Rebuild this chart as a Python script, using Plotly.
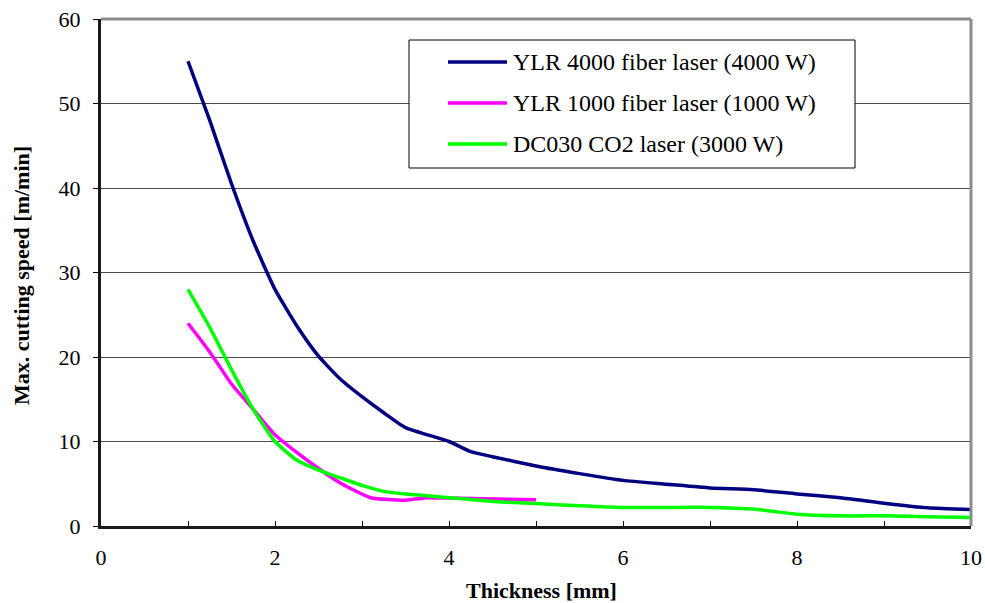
import plotly.graph_objects as go

# ---------------- data ----------------
thickness_ylr4000 = [1, 1.25, 1.5, 1.75, 2, 2.25, 2.5, 2.75, 3, 3.25, 3.5, 4, 4.25,
                     4.5, 5, 5.5, 6, 6.5, 7, 7.5, 8, 8.5, 9, 9.5, 10]
speed_ylr4000 = [55, 48, 40.5, 33.7, 28.0, 23.7, 20.1, 17.4, 15.3, 13.4, 11.65, 10, 8.8,
                 8.2, 7.1, 6.2, 5.4, 4.95, 4.5, 4.3, 3.8, 3.35, 2.7, 2.15, 1.95]

thickness_ylr1000 = [1, 1.25, 1.5, 1.75, 2, 2.25, 2.5, 2.75, 3.1, 3.5, 3.75, 4, 4.5, 5]
speed_ylr1000 = [24, 20.6, 16.8, 13.8, 10.8, 8.7, 6.8, 5.1, 3.35, 3.05, 3.35, 3.3, 3.2, 3.1]

thickness_dc030 = [1, 1.25, 1.5, 1.75, 2, 2.25, 2.5, 2.75, 3, 3.25, 3.5, 4, 4.5, 5,
                   5.5, 6, 6.5, 7, 7.5, 8, 8.5, 9, 9.5, 10]
speed_dc030 = [28, 23.5, 18.5, 13.8, 10, 7.8, 6.6, 5.7, 4.8, 4.1, 3.8, 3.35, 2.9, 2.65,
               2.4, 2.2, 2.2, 2.2, 2.0, 1.4, 1.2, 1.2, 1.1, 1.0]

series_names = ["YLR 4000 fiber laser (4000 W)",
                "YLR 1000 fiber laser (1000 W)",
                "DC030 CO2 laser (3000 W)"]
series_colors = ["#000080", "#FF00FF", "#00FF00"]

x_tickvals = [0, 2, 4, 6, 8, 10]
y_tickvals = [0, 10, 20, 30, 40, 50, 60]
x_title = "Thickness [mm]"
y_title = "Max. cutting speed [m/min]"

FONT = "Liberation Serif"

# ---------------- figure ----------------
W, H = 985, 603
ML, MR, MT, MB = 101, 14, 19, 77
PW, PH = W - ML - MR, H - MT - MB


def px_x(p):
    return (p - ML) / PW


def px_y(p):
    return (H - MB - p) / PH


fig = go.Figure()
series = [(thickness_ylr4000, speed_ylr4000),
          (thickness_ylr1000, speed_ylr1000),
          (thickness_dc030, speed_dc030)]
for (xs, ys), name, col in zip(series, series_names, series_colors):
    fig.add_trace(go.Scatter(x=xs, y=ys, mode="lines", name=name,
                             line=dict(color=col, width=3.5, shape="spline", smoothing=0.5),
                             showlegend=False, hoverinfo="x+y+name"))

shapes = []
annotations = []
# frame: top and right grey border
shapes.append(dict(type="line", xref="paper", yref="paper", x0=0, x1=1, y0=1, y1=1,
                   line=dict(color="#8c8c8c", width=3)))
shapes.append(dict(type="line", xref="paper", yref="paper", x0=1, x1=1, y0=0, y1=1,
                   line=dict(color="#8c8c8c", width=3)))

# custom legend box
shapes.append(dict(type="rect", xref="paper", yref="paper",
                   x0=px_x(409), x1=px_x(855), y0=px_y(168), y1=px_y(40),
                   line=dict(color="black", width=1), fillcolor="white", layer="above"))
for i, (name, col) in enumerate(zip(series_names, series_colors)):
    yy = px_y(62 + 41 * i)
    shapes.append(dict(type="line", xref="paper", yref="paper",
                       x0=px_x(448), x1=px_x(507), y0=yy, y1=yy,
                       line=dict(color=col, width=3.5), layer="above"))
    annotations.append(dict(text=name, xref="paper", yref="paper", x=px_x(511), y=yy,
                            xanchor="left", yanchor="middle", showarrow=False,
                            font=dict(family=FONT, size=24, color="black")))

# axis titles
annotations.append(dict(text="<b>" + x_title + "</b>", xref="paper", yref="paper",
                        x=px_x(541), y=px_y(590), xanchor="center", yanchor="middle",
                        showarrow=False, font=dict(family=FONT, size=22, color="black")))
annotations.append(dict(text="<b>" + y_title + "</b>", xref="paper", yref="paper",
                        x=px_x(22), y=px_y(276), xanchor="center", yanchor="middle",
                        textangle=-90, showarrow=False,
                        font=dict(family=FONT, size=22, color="black")))

fig.update_layout(
    template="none",
    width=W, height=H, autosize=False,
    margin=dict(l=ML, r=MR, t=MT, b=MB, pad=0, autoexpand=False),
    paper_bgcolor="white", plot_bgcolor="white",
    font=dict(family=FONT, size=22, color="black"),
    shapes=shapes, annotations=annotations,
    showlegend=False,
    xaxis=dict(range=[0, 10], tickvals=x_tickvals, ticktext=[str(v) for v in x_tickvals],
               automargin=False, showgrid=False, zeroline=False,
               showline=True, linecolor="#1a1a1a", linewidth=3,
               ticks="inside", ticklen=5, tickcolor="black", tickwidth=1,
               minor=dict(dtick=1, ticks="inside", ticklen=5, tickcolor="black", tickwidth=1,
                          showgrid=False),
               ticklabelstandoff=10,
               tickfont=dict(family=FONT, size=22, color="black")),
    yaxis=dict(range=[0, 60], tickvals=y_tickvals, ticktext=[str(v) for v in y_tickvals],
               automargin=False, showgrid=True, gridcolor="#4a4a4a", gridwidth=1,
               zeroline=False,
               showline=True, linecolor="#1a1a1a", linewidth=3,
               ticks="outside", ticklen=5, tickcolor="black", tickwidth=1,
               ticklabelstandoff=8,
               tickfont=dict(family=FONT, size=22, color="black")),
)

fig.write_html("out.html",
               config={"displayModeBar": False},
               post_script="document.body.style.margin='0';document.body.style.overflow='hidden';")
